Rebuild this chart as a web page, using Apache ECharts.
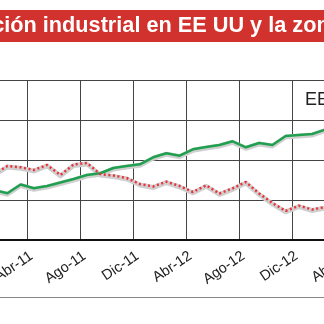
<!DOCTYPE html>
<html><head><meta charset="utf-8">
<script src="https://cdn.jsdelivr.net/npm/echarts@6/dist/echarts.min.js"></script>
<style>html,body{margin:0;padding:0;background:#fff}#c{width:324px;height:324px}</style>
</head><body><div id="c"></div>
<script>
const months = ['Ene-11','Feb-11','Mar-11','Abr-11','May-11','Jun-11','Jul-11','Ago-11','Sep-11','Oct-11','Nov-11','Dic-11',
  'Ene-12','Feb-12','Mar-12','Abr-12','May-12','Jun-12','Jul-12','Ago-12','Sep-12','Oct-12','Nov-12','Dic-12',
  'Ene-13','Feb-13','Mar-13','Abr-13'];
const usa = [101.25,100.84,101.94,101.46,101.75,102.19,102.63,103.13,103.34,104.0,104.25,104.46,
  105.34,105.84,105.54,106.34,106.63,106.88,107.34,106.59,107.13,106.88,108.0,108.13,108.25,108.81];
const euro = [103.25,104.25,104.09,103.75,104.38,103.13,104.44,104.63,103.25,103.06,102.75,102.0,
  101.69,102.29,101.75,101.0,101.84,100.81,101.46,102.25,100.81,99.63,98.63,99.29,98.81,99.13];
const tickMonths = ['Abr','Ago','Dic'];
const titleText = 'Producción industrial en EE UU y la zona euro';
const usaLabel = 'EE UU';

const isTick = (i, v) => tickMonths.indexOf(String(v).slice(0,3)) >= 0;
const shadow = {color:'#cfcfcf', width:3, shadowColor:'#cfcfcf', shadowOffsetY:2, shadowBlur:0};
const chart = echarts.init(document.getElementById('c'));
chart.setOption({
  animation:false,
  backgroundColor:'#fff',
  textStyle:{fontFamily:'Liberation Sans, Arial, sans-serif'},
  grid:{left:-12.45, right:-34.55, top:80, bottom:84, containLabel:false, outerBoundsMode:'none'},
  xAxis:{type:'category', data:months, boundaryGap:true,
    axisLine:{lineStyle:{color:'#111', width:2}},
    axisTick:{interval:isTick, length:5, lineStyle:{color:'#333', width:1}},
    axisLabel:{interval:isTick, rotate:34, margin:13, padding:[0,3,0,0], fontSize:14.5, color:'#222', fontFamily:'Liberation Sans, Arial, sans-serif', hideOverlap:false},
    splitLine:{show:true, interval:isTick, lineStyle:{color:'#444', width:1}}
  },
  yAxis:{type:'value', min:95, max:115, interval:5,
    axisLine:{show:false}, axisTick:{show:false}, axisLabel:{show:false},
    splitLine:{lineStyle:{color:'#444', width:1}}
  },
  series:[
    {type:'line', data:usa, showSymbol:false, symbol:'none', lineStyle:shadow, z:1, silent:true},
    {type:'line', data:euro, showSymbol:false, symbol:'none', lineStyle:shadow, z:1, silent:true},
    {type:'line', name:'EE UU', data:usa, showSymbol:false, symbol:'none', lineStyle:{color:'#1fa04f', width:2.5}, z:3},
    {type:'line', name:'Zona euro', data:euro, showSymbol:false, symbol:'none', lineStyle:{color:'#ec3038', width:2.5, type:[2,2.6]}, z:4}
  ],
  graphic:[
    {type:'rect', shape:{x:0, y:10, width:324, height:32}, style:{fill:'#d2322d'}, z:10},
    {type:'text', x:-82.5, y:26, style:{text:titleText, fill:'#fff', font:'bold 21.7px "Liberation Sans", Arial, sans-serif', textVerticalAlign:'middle'}, z:11},
    {type:'text', x:305, y:100, style:{text:usaLabel, fill:'#222', font:'18px "Liberation Sans", Arial, sans-serif', textVerticalAlign:'middle'}, z:11},
    {type:'line', shape:{x1:0, y1:297.5, x2:324, y2:297.5}, style:{stroke:'#888', lineWidth:1}, z:11}
  ]
});
</script></body></html>
